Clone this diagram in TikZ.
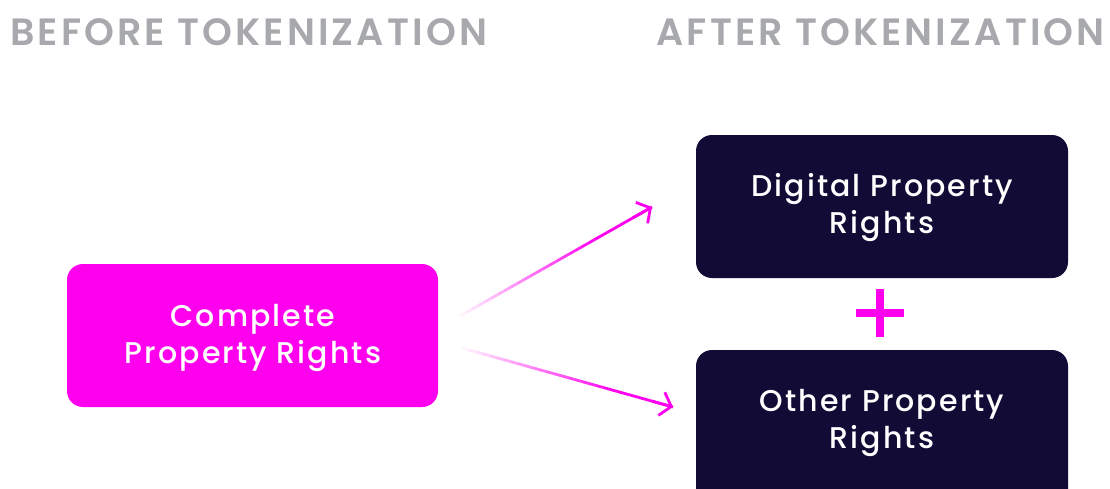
\documentclass[tikz,border=0pt]{standalone}
\usepackage{fontspec}
\setmainfont{Poppins}
\newfontfamily\headfont[LetterSpace=8.3]{Poppins SemiBold}
\newfontfamily\boxfont[LetterSpace=7]{Poppins Medium}
\usetikzlibrary{arrows.meta,calc}
\definecolor{pinkc}{HTML}{FF00EE}
\definecolor{navy}{HTML}{110B35}
\definecolor{headgray}{HTML}{A8A9AD}
\tikzset{
  head/.style={text=headgray, font=\headfont\fontsize{38}{40}\selectfont, inner sep=0pt},
  srcbox/.style={fill=pinkc, rounded corners=16pt},
  dstbox/.style={fill=navy, rounded corners=16pt},
  boxtext/.style={align=center, text=white, font=\boxfont\fontsize{30}{37}\selectfont},
  tip/.style={draw=pinkc, line width=2.8pt, -{Straight Barb[length=10pt,width=24pt,line width=2.8pt]}},
}
\begin{document}
\begin{tikzpicture}[x=1pt,y=-1pt]
\useasboundingbox (0,0) rectangle (1110,488);
% headers
\node[head, anchor=base west] (h1) at (10,45) {BEFORE TOKENIZATION};
\node[head, anchor=base east] (h2) at (1105,45) {AFTER TOKENIZATION};
% boxes
\path[srcbox] (67,264) rectangle (438,407);
\node[boxtext] (src) at (253,338) {Complete\\Property Rights};
\path[dstbox] (696,135) rectangle (1068,278);
\node[boxtext] (d1) at (882,208) {Digital Property\\Rights};
\begin{scope}
\clip (0,0) rectangle (1110,488);
\path[dstbox] (696,350) rectangle (1068,510);
\end{scope}
\node[boxtext] (d2) at (882,423) {Other Property\\Rights};
% plus
\node[inner sep=0pt, minimum size=1pt] (plus) at (880,313) {};
\fill[pinkc] ($(plus)+(-24,-4)$) rectangle ($(plus)+(24,4)$);
\fill[pinkc] ($(plus)+(-4,-24)$) rectangle ($(plus)+(4,24)$);
% arrows with fading
\coordinate (a1s) at (460,316);
\coordinate (a1e) at (652,207);
\coordinate (a2s) at (462,348);
\coordinate (a2e) at (673,407);
\foreach \s/\e in {a1s/a1e, a2s/a2e}{
  \foreach \i in {0,...,29}{
    \pgfmathsetmacro\op{min(1,(\i+1)/22)}
    \draw[pinkc, line width=2.8pt, draw opacity=\op]
      ($(\s)!{\i/30}!(\e)$) -- ($(\s)!{(\i+1)/30}!(\e)$);
  }
  \draw[tip] ($(\s)!0.9!(\e)$) -- (\e);
}
\end{tikzpicture}
\end{document}
